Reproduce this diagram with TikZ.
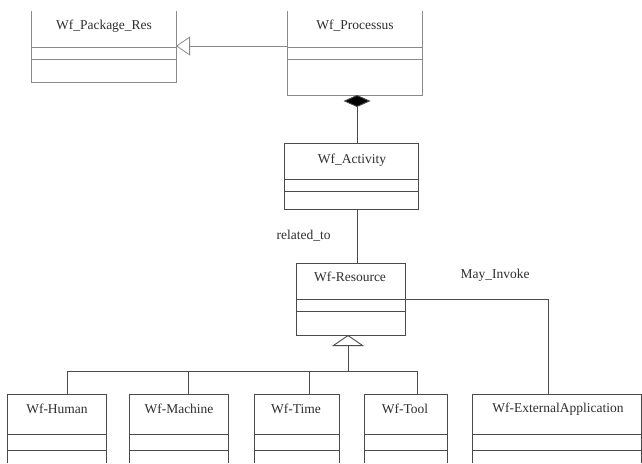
\documentclass[tikz,border=0pt]{standalone}
\usepackage{fontspec}
\setmainfont{Liberation Serif}
\usetikzlibrary{arrows.meta}
\definecolor{ln}{HTML}{4A4A4A}
\definecolor{lnlight}{HTML}{8A8A8A}
\definecolor{tx}{HTML}{2E2E2E}
\tikzset{
  frame/.style={draw=none, inner sep=0pt, outer sep=0pt},
  title/.style={font=\fontsize{13.5}{15}\selectfont, text=tx, inner sep=0pt},
  lbl/.style={font=\fontsize{13.5}{15}\selectfont, text=tx, inner sep=0pt},
  cl/.style={draw=ln, line width=0.9pt},
  cllight/.style={draw=lnlight, line width=0.9pt},
  inh/.style={draw=lnlight, line width=0.8pt, -{Triangle[open, length=14pt, width=19pt]}},
  comp/.style={draw=ln, line width=0.9pt, -{Diamond[length=12pt, width=27pt, fill=black]}},
  gen/.style={draw=ln, line width=0.9pt, -{Triangle[open, length=11pt, width=32pt]}},
}
\begin{document}
\begin{tikzpicture}[x=1pt,y=-1pt]
\useasboundingbox (0,0) rectangle (642,463);
% helper coordinates
\coordinate (yg) at (0,46);
\coordinate (cx) at (357,0);
\coordinate (ym) at (0,299);
\coordinate (mx) at (548,0);
\coordinate (bus) at (0,371);
\coordinate (d0) at (348,0);
\coordinate (d1) at (67,0);
\coordinate (d2) at (188,0);
\coordinate (d3) at (309,0);
\coordinate (d4) at (417,0);

% Wf_Package_Res (top cropped)
\node[frame, minimum width=145pt, minimum height=71pt] (pr) at (103.5,46.5) {};
\node[title] (prT) at (104,26) {Wf\_Package\_Res};
\draw[cllight] (pr.north west) -- (pr.south west) -- (pr.south east) -- (pr.north east);
\draw[cllight] (31,47) -- (176,47) (31,59) -- (176,59);

% Wf_Processus (top cropped)
\node[frame, minimum width=135pt, minimum height=84pt] (ps) at (354.5,53) {};
\node[title] (psT) at (355,26) {Wf\_Processus};
\draw[cllight] (ps.north west) -- (ps.south west) -- (ps.south east) -- (ps.north east);
\draw[cllight] (287,47) -- (422,47) (287,59) -- (422,59);

% Wf_Activity
\node[frame, cl, draw, minimum width=134pt, minimum height=66pt] (ac) at (351,176) {};
\node[title] (acT) at (352,160) {Wf\_Activity};
\draw[cl] (284,179) -- (418,179) (284,191) -- (418,191);

% Wf-Resource
\node[frame, cl, draw, minimum width=109pt, minimum height=72pt] (rs) at (350.5,299) {};
\node[title] (rsT) at (350,277) {Wf-Resource};
\draw[cl] (296,299) -- (405,299) (296,311) -- (405,311);

% bottom classes (bottom cropped)
\node[frame, minimum width=99pt, minimum height=69pt] (hu) at (56.5,428.5) {};
\node[title] (huT) at (57,409) {Wf-Human};
\draw[cl] (hu.south west) -- (hu.north west) -- (hu.north east) -- (hu.south east);
\draw[cl] (7,434) -- (106,434) (7,450) -- (106,450);

\node[frame, minimum width=99pt, minimum height=69pt] (ma) at (178.5,428.5) {};
\node[title] (maT) at (179,409) {Wf-Machine};
\draw[cl] (ma.south west) -- (ma.north west) -- (ma.north east) -- (ma.south east);
\draw[cl] (129,434) -- (228,434) (129,450) -- (228,450);

\node[frame, minimum width=85pt, minimum height=69pt] (ti) at (296.5,428.5) {};
\node[title] (tiT) at (296,409) {Wf-Time};
\draw[cl] (ti.south west) -- (ti.north west) -- (ti.north east) -- (ti.south east);
\draw[cl] (254,434) -- (339,434) (254,450) -- (339,450);

\node[frame, minimum width=83pt, minimum height=69pt] (to) at (405.5,428.5) {};
\node[title] (toT) at (405,409) {Wf-Tool};
\draw[cl] (to.south west) -- (to.north west) -- (to.north east) -- (to.south east);
\draw[cl] (364,434) -- (447,434) (364,450) -- (447,450);

\node[frame, minimum width=169pt, minimum height=69pt] (ex) at (556.5,428.5) {};
\node[title] (exT) at (558,409) {Wf-ExternalApplication};
\draw[cl] (ex.south west) -- (ex.north west) -- (ex.north east) -- (ex.south east);
\draw[cl] (472,434) -- (641,434) (472,450) -- (641,450);

% connectors
\draw[inh] (ps.west |- yg) -- (pr.east |- yg);
\draw[comp] (cx |- ac.north) -- (cx |- ps.south);
\draw[cl] (cx |- ac.south) -- (cx |- rs.north);
\node[lbl] (relT) at (303.5,236) {related\_to};
\draw[cl] (rs.east |- ym) -| (mx |- ex.north);
\node[lbl] (mayT) at (495,275) {May\_Invoke};
\draw[cl] (d1 |- hu.north) -- (d1 |- bus) -- (d4 |- bus) -- (d4 |- to.north);
\draw[cl] (d2 |- ma.north) -- (d2 |- bus);
\draw[cl] (d3 |- ti.north) -- (d3 |- bus);
\draw[gen] (d0 |- bus) -- (d0 |- rs.south);
\end{tikzpicture}
\end{document}
